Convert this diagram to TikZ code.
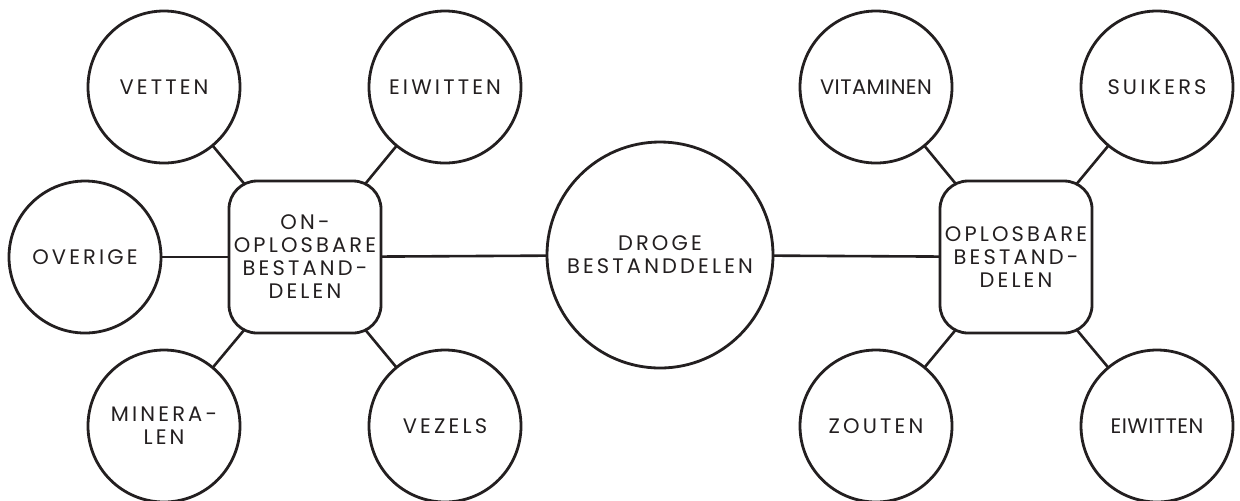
\documentclass[tikz,border=0pt]{standalone}
\usepackage{fontspec}
\newfontfamily\labelfont{Poppins}[LetterSpace=15]
\newfontfamily\labelkrap{Poppins}[LetterSpace=2]
\usepackage{tikz}
\usetikzlibrary{backgrounds}
\definecolor{trait}{RGB}{35,31,32}

\begin{document}
\begin{tikzpicture}[x=0.5pt,y=-0.5pt,
  rond/.style={circle,draw=trait,line width=1.4pt,fill=white,minimum size=76pt,inner sep=0pt,align=center,text=trait,font=\labelfont\fontsize{10.5}{11.5}\selectfont},
  krap/.style={font=\labelkrap\fontsize{10.5}{11.5}\selectfont},
  groot/.style={rond,minimum size=113pt},
  blok/.style={rond,rectangle,rounded corners=14pt},
  lijn/.style={draw=trait,line width=1.3pt}]
\useasboundingbox (0,0) rectangle (1240,500);
% midden
\node[groot] (droge) at (660,255) {DROGE\\BESTANDDELEN};
% links
\node[blok] (onoplos) at (305,257) {ON-\\OPLOSBARE\\BESTAND-\\DELEN};
\node[rond] (vetten) at (164,87) {VETTEN};
\node[rond] (eiwitl) at (445,87) {EIWITTEN};
\node[rond] (overige) at (85,257) {OVERIGE};
\node[rond] (mineralen) at (164,426) {MINERA-\\LEN};
\node[rond] (vezels) at (445,426) {VEZELS};
% rechts
\node[blok] (oplos) at (1016,257) {OPLOSBARE\\BESTAND-\\DELEN};
\node[rond,krap] (vitaminen) at (876,87) {VITAMINEN};
\node[rond] (suikers) at (1157,87) {SUIKERS};
\node[rond] (zouten) at (876,426) {ZOUTEN};
\node[rond,krap] (eiwitr) at (1157,426) {EIWITTEN};
\begin{scope}[on background layer]
\foreach \a/\b in {onoplos/droge,droge/oplos,onoplos/vetten,onoplos/eiwitl,onoplos/overige,onoplos/mineralen,onoplos/vezels,oplos/vitaminen,oplos/suikers,oplos/zouten,oplos/eiwitr}
  \draw[lijn] (\a.center) -- (\b.center);
\end{scope}
\end{tikzpicture}
\end{document}
